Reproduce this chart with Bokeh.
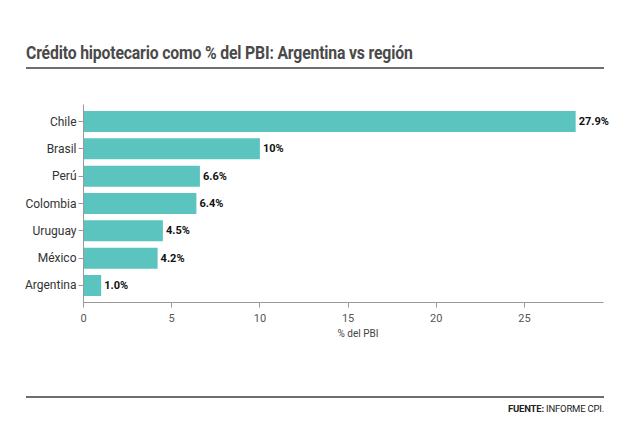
from bokeh.plotting import figure
from bokeh.models import ColumnDataSource, FactorRange, Range1d, FixedTicker, Div
from bokeh.layouts import column
from bokeh.core.properties import value
from bokeh.embed import file_html
from bokeh.resources import INLINE

countries = ["Chile", "Brasil", "Perú", "Colombia", "Uruguay", "México", "Argentina"]
values = [27.9, 10, 6.6, 6.4, 4.5, 4.2, 1.0]
value_labels = ["27.9%", "10%", "6.6%", "6.4%", "4.5%", "4.2%", "1.0%"]
x_ticks = [0, 5, 10, 15, 20, 25]
title_text = "Crédito hipotecario como % del PBI: Argentina vs región"
source_bold = "FUENTE:"
source_text = "INFORME CPI."

W = 632
FONT = "Roboto"

title_div = Div(
    width=W, height=72, margin=(0, 0, 0, 0),
    text=(f'<div style="margin-left:26px;width:578px;height:69px;border-bottom:2px solid #6e6e6e;'
          f'position:relative;">'
          f'<div style="position:absolute;left:0;top:39px;font-family:Roboto;font-weight:bold;'
          f'font-size:19px;color:#4a4a4a;white-space:nowrap;transform-origin:0 0;'
          f'transform:scaleX(0.83);letter-spacing:-0.2px;">{title_text}</div></div>'))

src = ColumnDataSource(dict(country=countries, value=values, label=value_labels))

p = figure(width=W, height=322, output_backend="svg", toolbar_location=None,
           y_range=FactorRange(factors=list(reversed(countries)), range_padding=0.035),
           x_range=Range1d(0, (632 - 83) / 17.64),
           min_border_left=83, min_border_right=0, min_border_top=32, min_border_bottom=92,
           margin=(0, 0, 0, 0))
p.outline_line_color = None
p.grid.grid_line_color = None

p.hbar(y="country", right="value", left=0, height=0.77, source=src,
       fill_color="#5bc4bf", line_color=None)
p.text(x="value", y="country", text="label", source=src, x_offset=3,
       text_baseline="middle", text_align="left", text_font=value(FONT),
       text_font_style="bold", text_font_size="11px", text_color="#111111")

p.xaxis.ticker = FixedTicker(ticks=x_ticks)
p.xaxis.bounds = (0, 29.5)
p.xaxis.axis_label = "% del PBI"
p.xaxis.axis_label_text_font = FONT
p.xaxis.axis_label_text_font_style = "normal"
p.xaxis.axis_label_text_font_size = "10px"
p.xaxis.axis_label_text_color = "#444444"
p.xaxis.axis_label_standoff = 3
p.xaxis.major_label_text_font = FONT
p.xaxis.major_label_text_font_size = "11px"
p.xaxis.major_label_text_color = "#555555"
p.xaxis.major_label_standoff = 6
p.xaxis.major_tick_out = 5
p.xaxis.major_tick_in = 0
p.xaxis.minor_tick_line_color = None
p.xaxis.axis_line_color = "#999999"
p.xaxis.major_tick_line_color = "#999999"

p.yaxis.major_label_text_font = FONT
p.yaxis.major_label_text_font_size = "12px"
p.yaxis.major_label_text_color = "#333333"
p.yaxis.major_tick_out = 5
p.yaxis.major_tick_in = 0
p.yaxis.axis_line_color = "#999999"
p.yaxis.major_tick_line_color = "#999999"
p.yaxis.major_label_standoff = 2

footer_div = Div(
    width=W, height=27, margin=(0, 0, 0, 0),
    text=(f'<div style="margin-left:26px;width:578px;margin-top:2px;border-top:2px solid #6e6e6e;'
          f'text-align:right;font-family:Roboto;font-size:9.5px;color:#222;padding-top:4px;'
          f'letter-spacing:-0.2px;">'
          f'<b>{source_bold}</b> {source_text}</div>'))

layout = column(title_div, p, footer_div, spacing=0, margin=(0, 0, 0, 0))

open("out.html", "w").write(file_html(layout, INLINE))
